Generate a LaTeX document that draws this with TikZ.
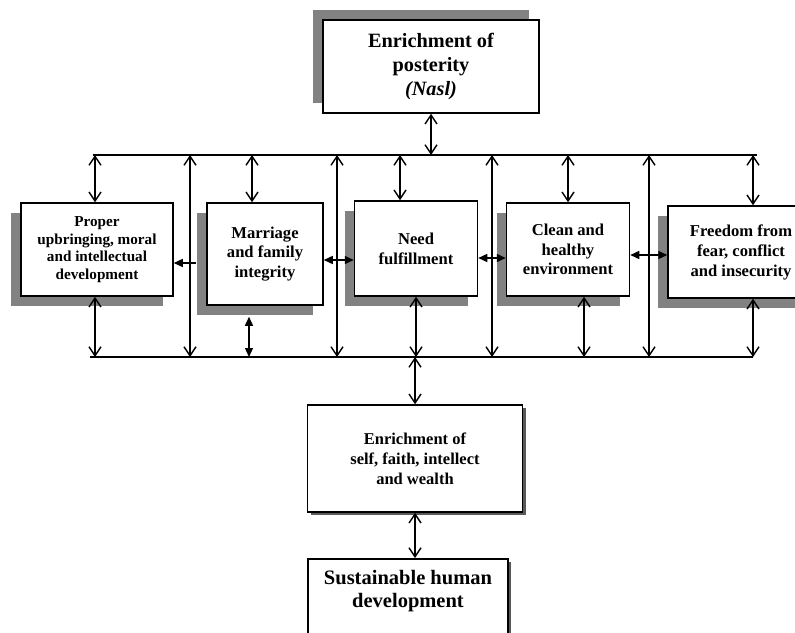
\documentclass[tikz,border=0pt]{standalone}
\usepackage{fontspec}
\setmainfont{Liberation Serif}
\usetikzlibrary{arrows.meta,shadows,calc}
\definecolor{shadowgray}{RGB}{130,130,130}
\definecolor{darkshadow}{RGB}{90,90,90}
\tikzset{
  box/.style={draw, line width=1.5pt, fill=white, align=center, inner sep=0pt},
  shadowUL/.style={general shadow={fill=shadowgray, shadow xshift=-10pt, shadow yshift=10pt}},
  shadowDL/.style={general shadow={fill=shadowgray, shadow xshift=-10pt, shadow yshift=-10pt}},
  shadowDR/.style={general shadow={fill=darkshadow, shadow xshift=3pt, shadow yshift=-3pt}},
  bus/.style={line width=1.8pt},
  dbl/.style={line width=1.4pt, {Straight Barb[length=9pt,width=12pt]}-{Straight Barb[length=9pt,width=12pt]}},
  fdbl/.style={line width=1.4pt, {Triangle[length=9pt,width=8pt]}-{Triangle[length=9pt,width=8pt]}},
  fone/.style={line width=1.4pt, -{Triangle[length=9pt,width=8pt]}},
}
\begin{document}
\begin{tikzpicture}[x=1pt,y=-1pt]
\useasboundingbox (0,0) rectangle (795,632);
\clip (0,0) rectangle (795,632);

% boxes
\node[box, shadowUL, minimum width=216pt, minimum height=93pt,
      font=\fontsize{20.3}{24}\selectfont\bfseries] (box0) at (431,66.5)
      {Enrichment of\\posterity\\\textit{(Nasl)}};
\node[box, shadowDL, minimum width=152pt, minimum height=93pt,
      font=\fontsize{15.2}{17.7}\selectfont\bfseries] (box1) at (97,249.5)
      {Proper\\upbringing, moral\\and intellectual\\development};
\node[box, shadowDL, minimum width=116pt, minimum height=102pt,
      font=\fontsize{16.6}{19.5}\selectfont\bfseries] (box2) at (265,254)
      {Marriage\\and family\\integrity};
\node[box, shadowDL, minimum width=123pt, minimum height=95pt,
      font=\fontsize{16.6}{20}\selectfont\bfseries] (box3) at (416,248.5)
      {Need\\fulfillment};
\node[box, shadowDL, minimum width=123pt, minimum height=93pt,
      font=\fontsize{16.6}{19.5}\selectfont\bfseries] (box4) at (568,249.5)
      {Clean and\\healthy\\environment};
\node[box, shadowDL, minimum width=146pt, minimum height=92pt,
      font=\fontsize{16.6}{20}\selectfont\bfseries] (box5) at (741,252)
      {Freedom from\\fear, conflict\\and insecurity};
\node[box, shadowDR, minimum width=215pt, minimum height=107pt,
      font=\fontsize{16.5}{20}\selectfont\bfseries] (box6) at (415,458.5)
      {Enrichment of\\self, faith, intellect\\and wealth};
\node[box, shadowDR, minimum width=200pt, minimum height=100pt, anchor=north] (box7) at (408,558) {};
\node[align=center, inner sep=0pt, font=\fontsize{20.5}{23}\selectfont\bfseries] (box7text) at (408,591.5)
      {Sustainable human\\development};

% buses
\coordinate (tL) at (93,155);
\coordinate (tR) at (757,155);
\coordinate (bL) at (90,357);
\coordinate (bR) at (753,357);
\draw[bus] (tL) -- (tR);
\draw[bus] (bL) -- (bR);

% long verticals between buses
\foreach \x in {190,337,492,649} {
  \draw[dbl] (\x,0 |- tL) -- (\x,0 |- bL);
}

% top box to bus
\draw[dbl] (box0.south) -- (box0.south |- tL);

% arrows from top bus to boxes
\draw[dbl] ([xshift=-2pt]box1.north |- tL) -- ([xshift=-2pt]box1.north);
\draw[dbl] ([xshift=-13pt]box2.north |- tL) -- ([xshift=-13pt]box2.north);
\draw[dbl] ([xshift=-16pt]box3.north |- tL) -- ([xshift=-16pt]box3.north);
\draw[dbl] (box4.north |- tL) -- (box4.north);
\draw[dbl] ([xshift=12pt]box5.north |- tL) -- ([xshift=12pt]box5.north);

% arrows from boxes to bottom bus
\draw[dbl] ([xshift=-2pt]box1.south) -- ([xshift=-2pt]box1.south |- bL);
\coordinate (b2s) at ([xshift=-16pt,yshift=-11pt]box2.south);
\draw[fdbl] (b2s) -- (b2s |- bL);
\draw[dbl] (box3.south) -- (box3.south |- bL);
\draw[dbl] ([xshift=16pt]box4.south) -- ([xshift=16pt]box4.south |- bL);
\draw[dbl] ([xshift=12pt]box5.south) -- ([xshift=12pt]box5.south |- bL);

% horizontal links
\coordinate (b2w) at ([xshift=-10pt,yshift=-9pt]box2.west);
\draw[fone] (b2w) -- (b2w -| box1.east);
\draw[fdbl] ([yshift=-6pt]box2.east) -- ([yshift=-6pt]box2.east -| box3.west);
\draw[fdbl] ([yshift=-9.5pt]box3.east) -- ([yshift=-9.5pt]box3.east -| box4.west);
\draw[fdbl] ([yshift=-5.5pt]box4.east) -- ([yshift=-5.5pt]box4.east -| box5.west);

% bottom chain
\draw[dbl] (box6.north |- bL) -- (box6.north);
\draw[dbl] (box6.south) -- (box6.south |- box7.north);
\end{tikzpicture}
\end{document}
